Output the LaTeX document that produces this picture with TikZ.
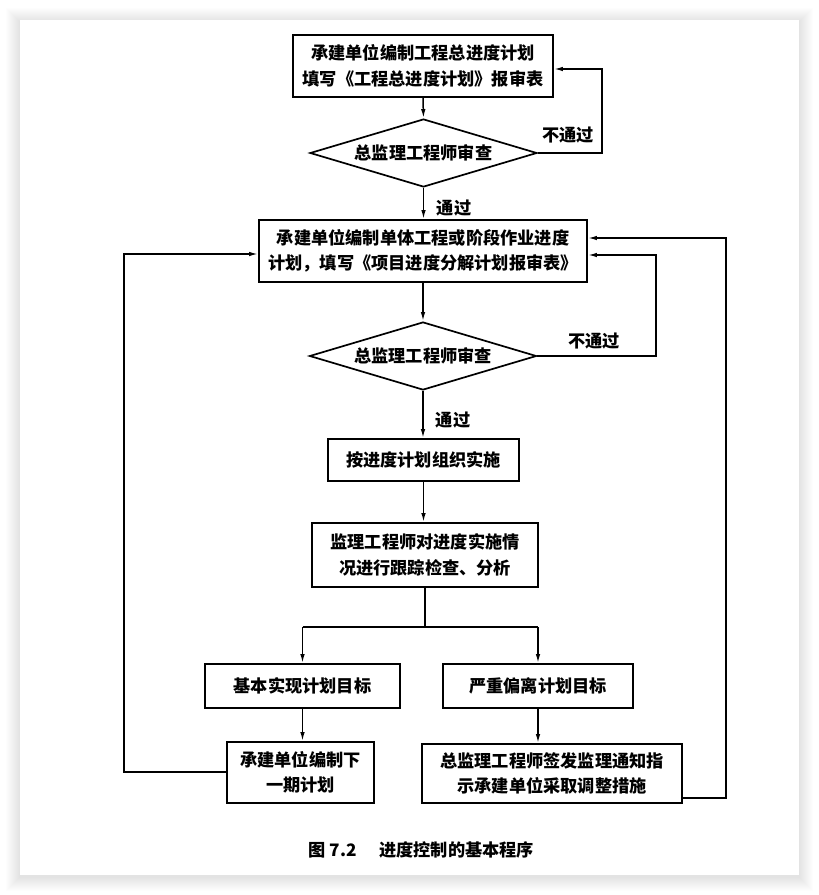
\documentclass[tikz,border=0pt]{standalone}
\usepackage{fontspec}
\newfontfamily\cjk{Noto Sans CJK SC}
\usetikzlibrary{shapes.geometric,arrows.meta,calc}
\tikzset{
  txt/.style={font=\cjk\bfseries\fontsize{17.2}{25.5}\selectfont},
  box/.style={txt, draw, line width=1.7pt, rectangle, align=center, inner sep=0pt},
  dia/.style={txt, draw, line width=1.7pt, diamond, aspect=3.3, inner sep=0pt,
    minimum width=227pt, minimum height=68pt},
  lbl/.style={txt, inner sep=0pt},
  conn/.style={line width=1.5pt, -{Latex[length=9pt,width=4.5pt]}},
  plain/.style={line width=1.5pt}
}
\begin{document}
\begin{tikzpicture}[x=1pt,y=-1pt]
\useasboundingbox (0,0) rectangle (819,895);
% page shadow
\foreach \i in {1,...,14}{
  \fill[black, opacity=0.007] ($(20,22)+(-\i,-\i)$) rectangle ($(799,877)+(\i,\i)$);
}
\fill[white] (20,20) rectangle (799,875);

% nodes
\node[box, minimum width=260pt, minimum height=62pt] (b1) at (423,66)
  {承建单位编制工程总进度计划\\填写《工程总进度计划》报审表};
\node[dia] (d1) at (423.5,153) {总监理工程师审查};
\node[box, minimum width=328pt, minimum height=62pt] (b2) at (423,251)
  {承建单位编制单体工程或阶段作业进度\\计划，填写《项目进度分解计划报审表》};
\node[dia] (d2) at (423,356) {总监理工程师审查};
\node[box, minimum width=191pt, minimum height=42pt] (b3) at (423.5,460)
  {按进度计划组织实施};
\node[box, minimum width=226pt, minimum height=64pt] (b4) at (425,555)
  {监理工程师对进度实施情\\况进行跟踪检查、分析};
\node[box, minimum width=195pt, minimum height=44pt] (b5) at (302.5,686)
  {基本实现计划目标};
\node[box, minimum width=190pt, minimum height=44pt] (b6) at (538,686)
  {严重偏离计划目标};
\node[box, minimum width=147pt, minimum height=61pt] (b7) at (300.5,772.5)
  {承建单位编制下\\一期计划};
\node[box, minimum width=260pt, minimum height=59pt] (b8) at (552,773.5)
  {总监理工程师签发监理通知指\\示承建单位采取调整措施};

% labels
\node[lbl] (np1) at (568,135) {不通过};
\node[lbl] (p1) at (454,208) {通过};
\node[lbl] (np2) at (594,341) {不通过};
\node[lbl] (p2) at (453,420) {通过};
\node[lbl] (cap) at (421.5,850) {图 7.2\hspace{1.3em}进度控制的基本程序};

% main flow
\draw[conn] (b1.south) -- (d1.north);
\draw[conn] (d1.south) -- (d1.south |- b2.north);
\draw[conn] (b2.south) -- (d2.north);
\draw[conn] (d2.south) -- (d2.south |- b3.north);
\draw[conn] (b3.south) -- (b3.south |- b4.north);

% rejection loops
\coordinate (r1) at (602,153);
\coordinate (r1t) at (602,69);
\draw[conn] (d1.east) -- (r1) -- (r1t) -- (r1t -| b1.east);
\coordinate (r2) at (656,356);
\coordinate (r2t) at (656,255);
\draw[conn] (d2.east) -- (r2) -- (r2t) -- (r2t -| b2.east);

% split
\coordinate (sp) at (425,627);
\coordinate (spl) at (302.5,627);
\coordinate (spr) at (538,627);
\draw[plain] (b4.south) -- (sp);
\draw[plain] (spl) -- (spr);
\draw[conn] (spl) -- (b5.north);
\draw[conn] (spr) -- (b6.north);
\draw[conn] (b5.south) -- (b5.south |- b7.north);
\draw[conn] (b6.south) -- (b6.south |- b8.north);

% feedback loops
\coordinate (l1) at (124,772);
\coordinate (l1t) at (124,254);
\draw[conn] (l1 -| b7.west) -- (l1) -- (l1t) -- (l1t -| b2.west);
\coordinate (l2) at (726,798);
\coordinate (l2t) at (726,238);
\draw[conn] (l2 -| b8.east) -- (l2) -- (l2t) -- (l2t -| b2.east);
\end{tikzpicture}
\end{document}
